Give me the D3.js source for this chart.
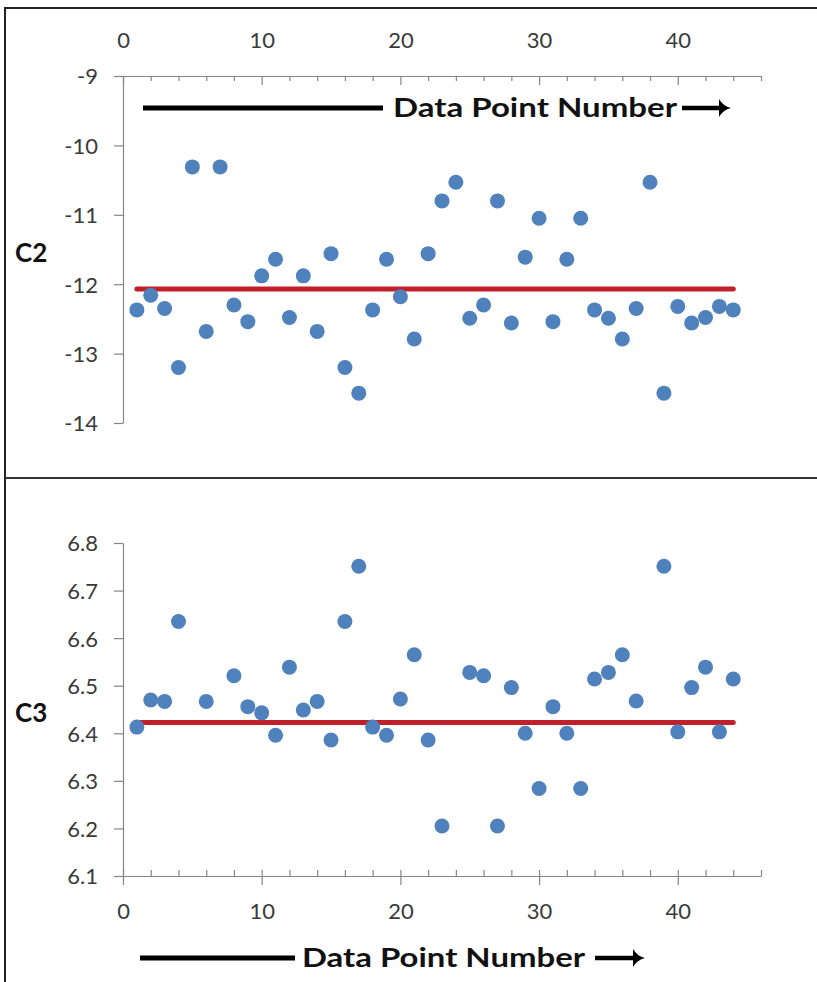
<!DOCTYPE html>
<html>
<head>
<meta charset="utf-8">
<script src="https://cdn.jsdelivr.net/npm/d3@7"></script>
<style>
  body { margin: 0; background: #fff; }
  svg { display: block; }
  .tick text { font-family: Lato, "Open Sans", sans-serif; font-size: 22px; fill: #3a3a3a; }
  .axis path, .axis line { stroke: #868686; stroke-width: 1.2; }
  .note { font-family: Lato, "Open Sans", sans-serif; font-weight: bold; fill: #111; }
</style>
</head>
<body>
<figure id="chart" style="margin:0"></figure>
<script>
// Data point numbers (1..44)
const pointNumbers = d3.range(1, 45);

// C2 values
const c2Values = [
  -12.37, -12.16, -12.35, -13.20, -10.31, -12.68, -10.31, -12.30, -12.54, -11.88,
  -11.64, -12.48, -11.88, -12.68, -11.56, -13.20, -13.57, -12.37, -11.64, -12.18,
  -12.79, -11.56, -10.80, -10.53, -12.49, -12.30, -10.80, -12.56, -11.61, -11.05,
  -12.54, -11.64, -11.05, -12.37, -12.49, -12.79, -12.35, -10.53, -13.57, -12.32,
  -12.56, -12.48, -12.32, -12.37
];

// C3 values (points 5, 7, 24 and 38 are absent)
const c3Values = [
  6.413, 6.470, 6.467, 6.635, null, 6.467, null, 6.521, 6.456, 6.443,
  6.396, 6.539, 6.449, 6.467, 6.386, 6.635, 6.751, 6.413, 6.396, 6.472,
  6.565, 6.386, 6.205, null, 6.528, 6.521, 6.205, 6.496, 6.400, 6.284,
  6.456, 6.400, 6.284, 6.514, 6.528, 6.565, 6.468, null, 6.751, 6.403,
  6.496, 6.539, 6.403, 6.514
];

// Centre lines (means)
const c2Mean = -12.07;
const c3Mean = 6.4225;
const meanSpan = [1, 44];

// Axis ticks
const xMajorTicks = [0, 10, 20, 30, 40];
const xMinorTicks = d3.range(0, 47, 2).filter(d => d % 10 !== 0);
const c2Ticks = [-14, -13, -12, -11, -10, -9];
const c3Ticks = [6.1, 6.2, 6.3, 6.4, 6.5, 6.6, 6.7, 6.8];

const width = 817;
const height = 982;

const svg = d3.select("figure#chart")
  .append("svg")
  .attr("width", width)
  .attr("height", height);

const x = d3.scaleLinear().domain([0, 46]).range([123, 761]);
const yTop = d3.scaleLinear().domain([-14, -9]).range([423, 76]);
const yBot = d3.scaleLinear().domain([6.1, 6.8]).range([876, 543]);

// plain hyphen for negatives, like the original
const fmtInt = d => String(d);
const fmtDec = d => d.toFixed(1);

// Panel frames
svg.append("rect")
  .attr("x", 5).attr("y", 8)
  .attr("width", 840).attr("height", 1000)
  .attr("fill", "none").attr("stroke", "#222").attr("stroke-width", 2);
svg.append("line")
  .attr("x1", 5).attr("x2", width + 10)
  .attr("y1", 478).attr("y2", 478)
  .attr("stroke", "#333").attr("stroke-width", 2.2);

function drawPanel(y, values, mean, yTicks, fmt, xOnTop, label, labelY) {
  const g = svg.append("g");

  // y axis
  g.append("g")
    .attr("class", "axis")
    .attr("transform", `translate(${x(0)},0)`)
    .call(d3.axisLeft(y).tickValues(yTicks).tickFormat(fmt)
      .tickSizeInner(9).tickSizeOuter(0).tickPadding(16))
    .selectAll(".tick text").attr("dy", "0.36em");

  // x axis (major + minor)
  const xPos = xOnTop ? y.range()[1] : y.range()[0];
  const xAxis = xOnTop
    ? d3.axisTop(x).tickSizeInner(-9).tickPadding(28)
    : d3.axisBottom(x).tickSizeInner(9).tickPadding(18);
  const ax = g.append("g")
    .attr("class", "axis")
    .attr("transform", `translate(0,${xPos})`)
    .call(xAxis.tickValues(xMajorTicks).tickFormat(fmtInt).tickSizeOuter(0));
  if (!xOnTop) ax.selectAll(".tick line").attr("y1", -6);

  const minor = g.append("g")
    .attr("class", "axis")
    .attr("transform", `translate(0,${xPos})`)
    .call((xOnTop ? d3.axisTop(x).tickSize(-5) : d3.axisBottom(x).tickSize(-6))
      .tickValues(xMinorTicks).tickFormat(""));
  minor.select(".domain").remove();

  // mean line
  g.append("line")
    .attr("x1", x(meanSpan[0])).attr("x2", x(meanSpan[1]))
    .attr("y1", y(mean)).attr("y2", y(mean))
    .attr("stroke", "#c0202a")
    .attr("stroke-width", 5)
    .attr("stroke-linecap", "round");

  // points
  const pts = pointNumbers.map((n, i) => ({ n, v: values[i] })).filter(d => d.v != null);
  g.append("g")
    .selectAll("circle")
    .data(pts)
    .join("circle")
    .attr("cx", d => x(d.n))
    .attr("cy", d => y(d.v))
    .attr("r", 7.5)
    .attr("fill", "#4f81bd");

  // series label
  g.append("text")
    .attr("class", "note")
    .attr("x", 15).attr("y", labelY)
    .attr("font-size", 26)
    .text(label);
}

drawPanel(yTop, c2Values, c2Mean, c2Ticks, fmtInt, true, "C2", 262);
drawPanel(yBot, c3Values, c3Mean, c3Ticks, fmtDec, false, "C3", 722);

// "Data Point Number" annotations with lead line and arrow
function dataPointNote(lineX0, lineX1, textX, textW, arrowX0, arrowX1, cy) {
  const g = svg.append("g");
  g.append("line")
    .attr("x1", lineX0).attr("x2", lineX1)
    .attr("y1", cy).attr("y2", cy)
    .attr("stroke", "#000").attr("stroke-width", 5);
  g.append("text")
    .attr("class", "note")
    .attr("x", textX).attr("y", cy + 8.5)
    .attr("font-size", 26)
    .attr("textLength", textW)
    .attr("lengthAdjust", "spacingAndGlyphs")
    .text("Data Point Number");
  g.append("line")
    .attr("x1", arrowX0).attr("x2", arrowX1 - 8)
    .attr("y1", cy).attr("y2", cy)
    .attr("stroke", "#000").attr("stroke-width", 4.5);
  g.append("path")
    .attr("d", `M${arrowX1 - 12},${cy - 9} Q${arrowX1 - 8},${cy - 2} ${arrowX1},${cy} Q${arrowX1 - 8},${cy + 2} ${arrowX1 - 12},${cy + 9} Z`)
    .attr("fill", "#000");
}

dataPointNote(143, 383, 393, 284, 682, 731, 108);
dataPointNote(140, 295, 302, 283, 595, 645, 958);
</script>
</body>
</html>
